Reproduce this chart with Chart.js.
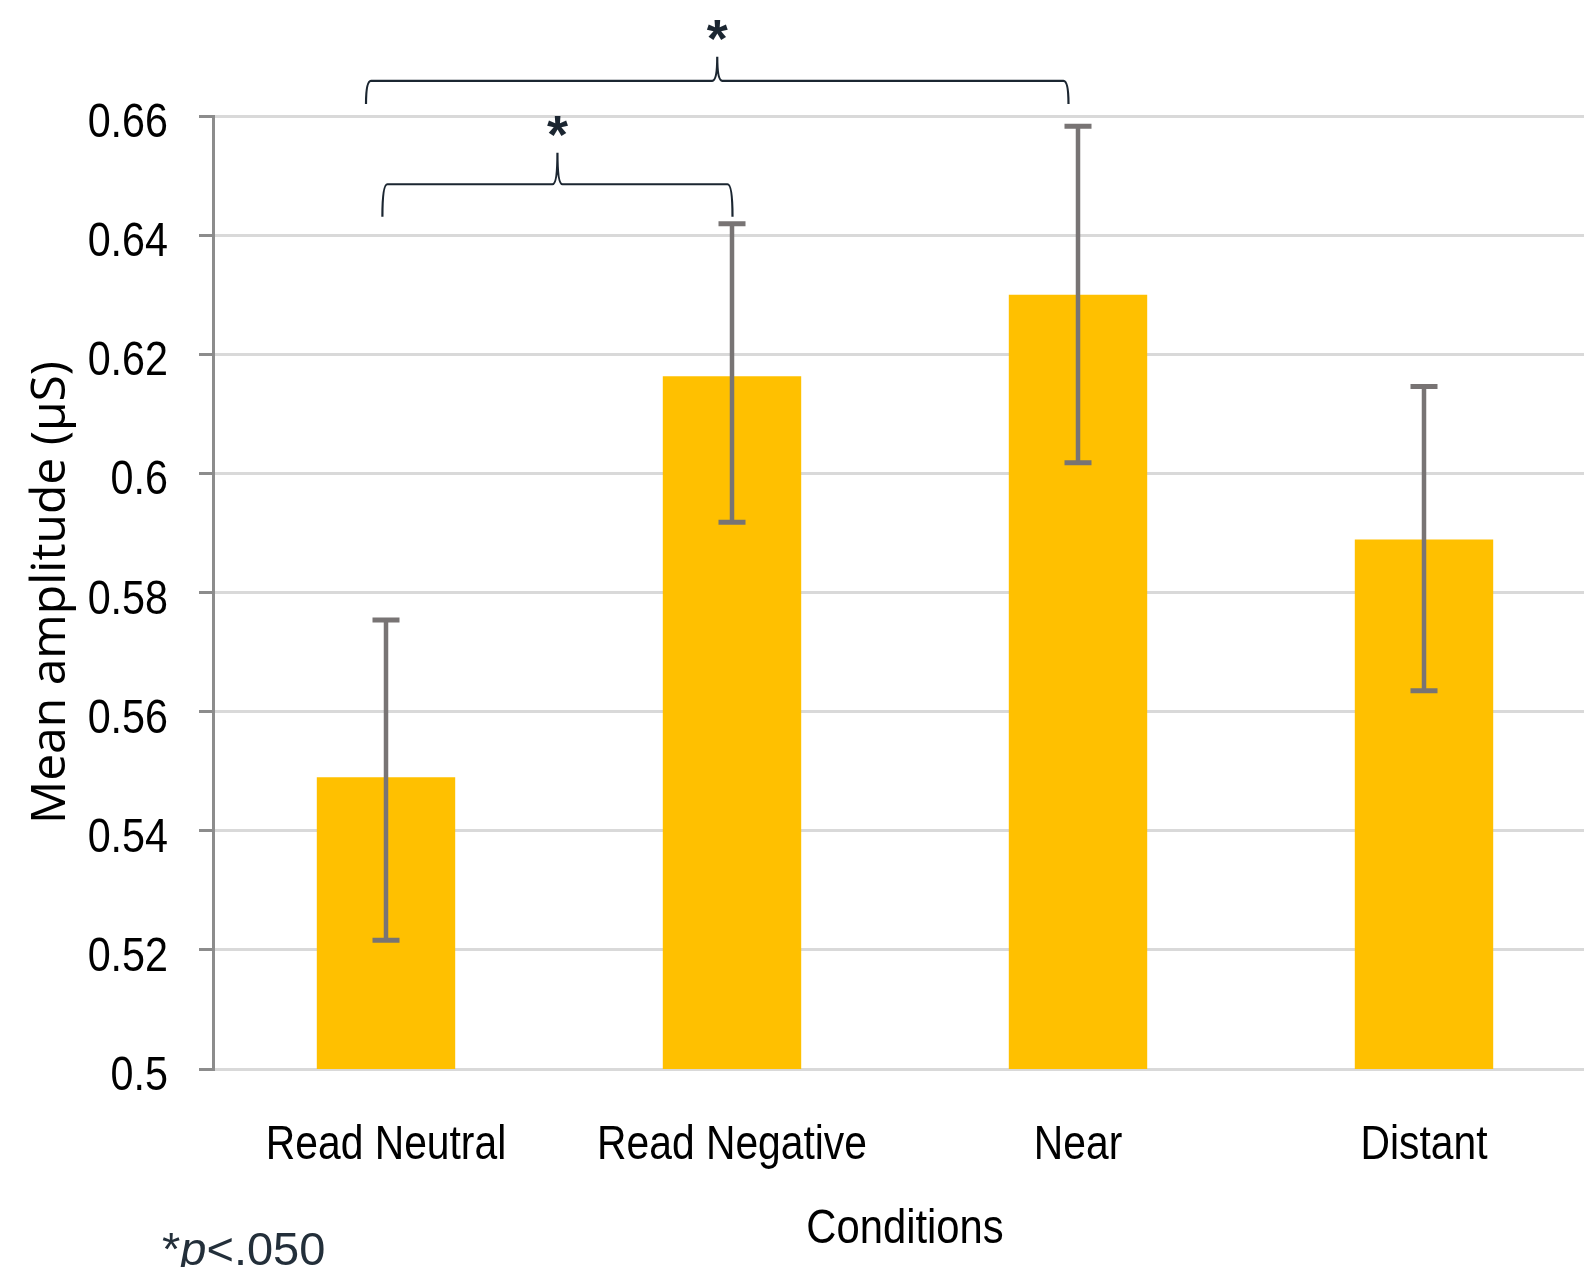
<!DOCTYPE html>
<html>
<head>
<meta charset="utf-8">
<script src="https://cdn.jsdelivr.net/npm/chart.js@4.4.0/dist/chart.umd.min.js"></script>
<style>
  html, body { margin: 0; padding: 0; background: #fff; overflow: hidden; }
  #wrap { position: relative; width: 1600px; height: 1267px; }
</style>
</head>
<body>
<div id="wrap"><canvas id="ampChart"></canvas></div>
<script>
var conditions = ['Read Neutral', 'Read Negative', 'Near', 'Distant'];
var meanAmp = [0.549, 0.6163, 0.630, 0.5889];
var errHigh = [0.5754, 0.6419, 0.6583, 0.6146];
var errLow = [0.5216, 0.5918, 0.6018, 0.5635];
var yTickLabels = ['0.5', '0.52', '0.54', '0.56', '0.58', '0.6', '0.62', '0.64', '0.66'];
var xTitle = 'Conditions';

// significance brackets (category index from/to, foot of bracket in axis units)
var sigFrom = [0, 0];
var sigTo = [1, 2];
var sigBase = [0.6431, 0.662];
var sigMarks = ['*', '*'];

var sans = '"Liberation Sans", Arial, sans-serif';

// the original uses a condensed Calibri-like face; squeeze Liberation Sans to match
function narrowText(ctx, text, x, y, align, squeeze) {
  ctx.save();
  ctx.translate(x, y);
  ctx.scale(squeeze, 1);
  ctx.textAlign = align;
  ctx.fillText(text, 0, 0);
  ctx.restore();
}

var errorBars = {
  id: 'errorBars',
  afterDatasetsDraw: function(chart) {
    var ctx = chart.ctx, y = chart.scales.y;
    var bars = chart.getDatasetMeta(0).data;
    ctx.save();
    ctx.strokeStyle = '#787474';
    bars.forEach(function(bar, i) {
      var top = y.getPixelForValue(errHigh[i]);
      var bot = y.getPixelForValue(errLow[i]);
      ctx.lineWidth = 4.5;
      ctx.beginPath();
      ctx.moveTo(bar.x, top);
      ctx.lineTo(bar.x, bot);
      ctx.stroke();
      ctx.lineWidth = 5;
      ctx.beginPath();
      ctx.moveTo(bar.x - 13.5, top); ctx.lineTo(bar.x + 13.5, top);
      ctx.moveTo(bar.x - 13.5, bot); ctx.lineTo(bar.x + 13.5, bot);
      ctx.stroke();
    });
    ctx.restore();
  }
};

function brace(ctx, x1, x2, yb, yh, yt) {
  var xc = (x1 + x2) / 2, r = 5;
  ctx.beginPath();
  ctx.moveTo(x1, yb);
  ctx.quadraticCurveTo(x1, yh, x1 + r, yh);
  ctx.lineTo(xc - r, yh);
  ctx.quadraticCurveTo(xc, yh, xc, yt);
  ctx.quadraticCurveTo(xc, yh, xc + r, yh);
  ctx.lineTo(x2 - r, yh);
  ctx.quadraticCurveTo(x2, yh, x2, yb);
  ctx.stroke();
}

var annotations = {
  id: 'annotations',
  afterDraw: function(chart) {
    var ctx = chart.ctx, x = chart.scales.x, y = chart.scales.y;
    var bars = chart.getDatasetMeta(0).data;
    ctx.save();

    // axis labels, squeezed
    ctx.fillStyle = '#000';
    ctx.font = '48px ' + sans;
    ctx.textBaseline = 'alphabetic';
    y.ticks.forEach(function(t, i) {
      narrowText(ctx, t.label, y.right - 45, y.getPixelForTick(i) + 21, 'right', 0.86);
    });
    x.getLabels().forEach(function(lab, i) {
      narrowText(ctx, lab, x.getPixelForTick(i), x.top + 90, 'center', 0.85);
    });
    narrowText(ctx, xTitle, (chart.chartArea.left + chart.chartArea.right) / 2, x.top + 174, 'center', 0.87);

    // significance brackets
    var geo = [
      { dl: -3.6, dr: 0.5, rise: 32.4, tip: 64, star: 90 },
      { dl: -20, dr: -9.5, rise: 23.3, tip: 47.3, star: 74 }
    ];
    ctx.strokeStyle = '#1b2631';
    ctx.fillStyle = '#1b2631';
    ctx.lineWidth = 2.2;
    sigFrom.forEach(function(f, i) {
      var g = geo[i];
      var x1 = bars[f].x + g.dl, x2 = bars[sigTo[i]].x + g.dr;
      var yb = y.getPixelForValue(sigBase[i]);
      brace(ctx, x1, x2, yb, yb - g.rise, yb - g.tip);
      ctx.font = 'bold 54px ' + sans;
      ctx.textAlign = 'center';
      ctx.textBaseline = 'alphabetic';
      var m = ctx.measureText(sigMarks[i]);
      var cy = yb - g.star;
      ctx.fillText(sigMarks[i], (x1 + x2) / 2, cy + (m.actualBoundingBoxAscent - m.actualBoundingBoxDescent) / 2);
    });

    // footnote
    ctx.fillStyle = '#232f3a';
    ctx.textAlign = 'left';
    ctx.textBaseline = 'alphabetic';
    var fx = 162, fy = 1265;
    ctx.font = '47px ' + sans;
    ctx.fillText('*', fx, fy);
    fx += ctx.measureText('*').width;
    ctx.font = 'italic 47px ' + sans;
    ctx.fillText('p', fx, fy);
    fx += ctx.measureText('p').width;
    ctx.font = '47px ' + sans;
    ctx.fillText('<.050', fx, fy);
    ctx.restore();
  }
};

new Chart(document.getElementById('ampChart'), {
  type: 'bar',
  data: {
    labels: conditions,
    datasets: [{
      data: meanAmp,
      backgroundColor: '#FFC000',
      barPercentage: 0.4,
      categoryPercentage: 1.0
    }]
  },
  options: {
    responsive: true,
    maintainAspectRatio: false,
    animation: false,
    layout: { padding: { top: 116, right: 3, left: 0, bottom: 0 } },
    plugins: { legend: { display: false }, tooltip: { enabled: false } },
    scales: {
      x: {
        grid: { display: false, drawTicks: false },
        border: { display: false },
        ticks: { color: 'rgba(0,0,0,0)', font: { family: sans, size: 48 }, padding: 43, maxRotation: 0, autoSkip: false },
        afterFit: function(s) { s.height = 198; }
      },
      y: {
        min: 0.5,
        max: 0.66,
        ticks: {
          stepSize: 0.02,
          padding: 31,
          color: 'rgba(0,0,0,0)',
          font: { family: sans, size: 48 },
          callback: function(v, i) { return yTickLabels[i]; }
        },
        grid: { color: '#d9d9d9', lineWidth: 3, tickColor: '#8c8c8c', tickLength: 14, tickWidth: 3 },
        border: { display: true, color: '#8c8c8c', width: 3 },
        title: { display: true, text: 'Mean amplitude (µS)', color: '#000', font: { family: '"Open Sans", sans-serif', size: 48 }, padding: { top: 23, bottom: 0 } },
        afterFit: function(s) { s.width = 213; }
      }
    }
  },
  plugins: [errorBars, annotations]
});
</script>
</body>
</html>
